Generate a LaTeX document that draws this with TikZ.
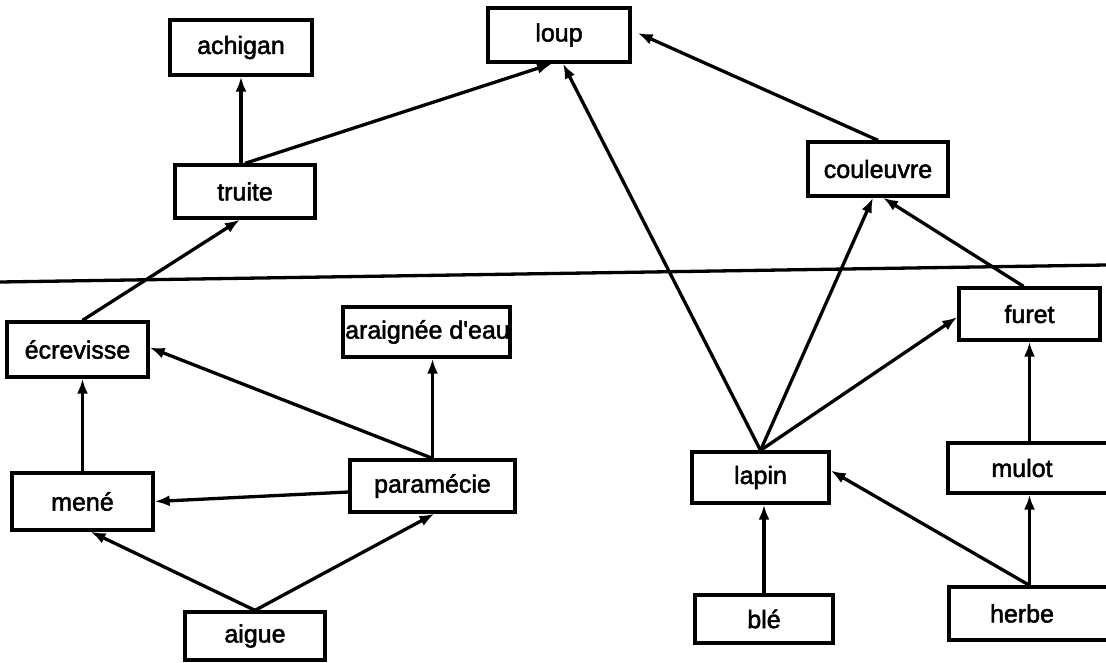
\documentclass[tikz,border=0pt]{standalone}
\usepackage{fontspec}
\setmainfont{Liberation Sans}
\newfontfamily\labfont[FakeBold=2]{Liberation Sans}
\usetikzlibrary{arrows.meta}
\tikzset{
  lab/.style={inner sep=0pt, font=\labfont\fontsize{25}{28}\selectfont},
  box/.style={draw, line width=3.3pt, rectangle, inner sep=0pt, font=\labfont\fontsize{25}{28}\selectfont},
  arr/.style={line width=3.3pt, -{Latex[length=15pt,width=11pt]}},
  plain/.style={line width=3.3pt}
}
\begin{document}
\begin{tikzpicture}[x=1pt,y=-1pt]
\clip (0,0) rectangle (1106,662);
\useasboundingbox (0,0) rectangle (1106,662);
\fill[white] (0,0) rectangle (1106,662);
% nodes
\node[box, minimum width=142pt, minimum height=55pt] (achigan) at (241,47.5) {achigan};
\node[box, minimum width=140pt, minimum height=53pt] (truite) at (245,191.5) {truite};
\node[box, minimum width=142pt, minimum height=54pt] (loup) at (559,35) {loup};
\node[box, minimum width=140pt, minimum height=54pt] (couleuvre) at (878,169) {couleuvre};
\node[box, minimum width=141pt, minimum height=55pt] (ecrevisse) at (77.5,349.5) {écrevisse};
\node[box, minimum width=167pt, minimum height=50pt] (araignee) at (426.5,332) {};
\node[lab] (araigneetxt) at (427.5,332) {araignée d'eau};
\node[box, minimum width=141pt, minimum height=52pt] (furet) at (1029.5,314) {furet};
\node[box, minimum width=141pt, minimum height=57pt] (mene) at (82.5,501.5) {mené};
\node[box, minimum width=165pt, minimum height=52pt] (paramecie) at (432.5,486) {paramécie};
\node[box, minimum width=140pt, minimum height=48pt] (aigue) at (255,636) {aigue};
\node[box, minimum width=137pt, minimum height=51pt] (lapin) at (760.5,477.5) {lapin};
\node[box, minimum width=138pt, minimum height=48pt] (ble) at (764,619) {blé};
\node[box, minimum width=170pt, minimum height=50pt] (mulot) at (1033,468) {};
\node[lab] (mulottxt) at (1022,468) {mulot};
\node[box, minimum width=170pt, minimum height=53pt] (herbe) at (1034,613.5) {};
\node[lab] (herbetxt) at (1022,613.5) {herbe};
% dividing line
\coordinate (hl) at (0,282);
\coordinate (hr) at (1106,265);
\draw[plain] (hl) -- (hr);
% connectors
\draw[arr] ([xshift=-4pt]truite.north) -- ([xshift=-4pt]truite.north |- achigan.south);
\draw[arr] (truite.north) -- ([xshift=-7pt]loup.south);
\draw[arr] (lapin.north) -- ([xshift=4pt]loup.south);
\draw[arr] (couleuvre.north) -- ([xshift=6pt,yshift=2pt]loup.east);
\draw[arr] (lapin.north) -- ([xshift=-5pt]couleuvre.south);
\draw[arr] ([xshift=-6pt]furet.north) -- ([xshift=5pt]couleuvre.south);
\draw[arr] (lapin.north) -- ([yshift=-3pt]furet.west);
\draw[arr] (mulot.north -| furet.south) -- (furet.south);
\draw[arr] (mene.north) -- (mene.north |- ecrevisse.south);
\draw[arr] ([xshift=5pt]ecrevisse.north) -- ([xshift=-5pt]truite.south);
\draw[arr] (paramecie.north) -- ([yshift=2pt]ecrevisse.east);
\draw[arr] (paramecie.north) -- (paramecie.north |- araignee.south);
\draw[arr] ([yshift=-6pt]paramecie.west) -- (mene.east);
\draw[arr] (aigue.north) -- ([xshift=8pt]mene.south);
\draw[arr] (aigue.north) -- ([xshift=2pt]paramecie.south);
\draw[arr] (ble.north) -- (ble.north |- lapin.south);
\draw[arr] (herbe.north -| furet.south) -- ([yshift=7pt]lapin.east);
\draw[arr] (herbe.north -| furet.south) -- (mulot.south -| furet.south);
\end{tikzpicture}
\end{document}
